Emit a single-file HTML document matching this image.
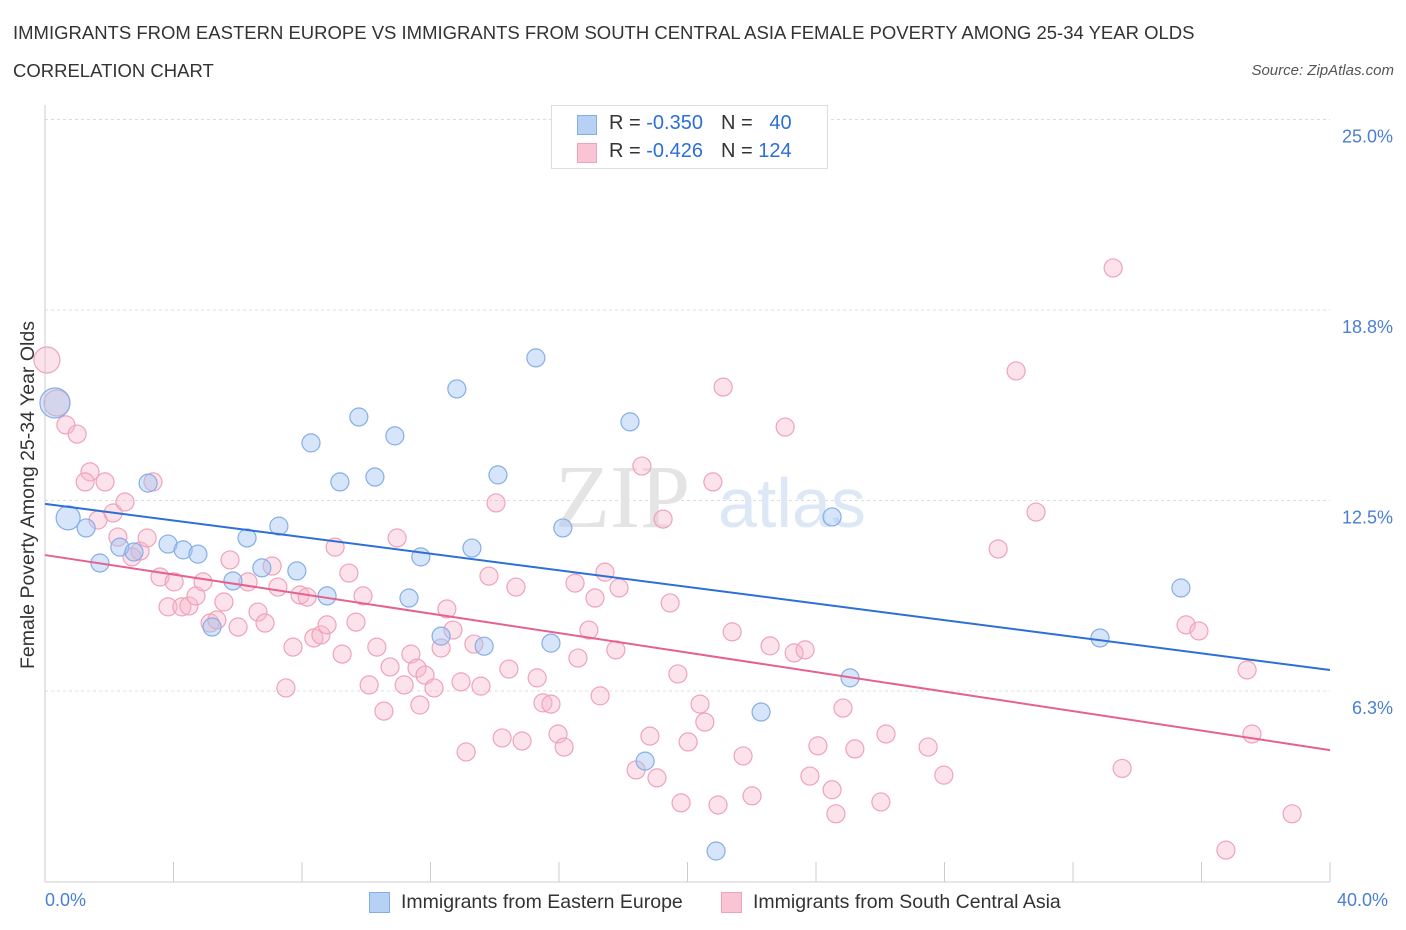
<!DOCTYPE html>
<html><head><meta charset="utf-8">
<style>
body{margin:0;background:#fff;font-family:"Liberation Sans",sans-serif;}
#wrap{position:relative;width:1406px;height:930px;overflow:hidden;}
.t{position:absolute;color:#333;white-space:nowrap;}
</style></head>
<body>
<div id="wrap">
<div class="t" style="left:13px;top:22px;font-size:18.5px;">IMMIGRANTS FROM EASTERN EUROPE VS IMMIGRANTS FROM SOUTH CENTRAL ASIA FEMALE POVERTY AMONG 25-34 YEAR OLDS</div>
<div class="t" style="left:13px;top:60px;font-size:18.5px;">CORRELATION CHART</div>
<div class="t" style="right:12px;top:62px;font-size:15px;font-style:italic;color:#555;">Source: ZipAtlas.com</div>
<svg id="svg" width="1406" height="930" style="position:absolute;left:0;top:0"></svg>
</div>
<script>
const blueX=[0.31,0.72,1.28,1.71,2.33,2.77,3.21,3.83,4.30,4.76,5.20,5.85,6.29,6.75,7.28,7.84,8.28,8.78,9.18,9.77,10.27,10.89,11.33,11.70,12.33,12.82,13.29,13.67,14.10,15.28,15.75,16.12,18.21,18.68,20.89,22.29,24.50,25.06,32.84,35.36];
const blueY=[15.70,11.93,11.60,10.45,10.97,10.81,13.07,11.07,10.88,10.74,8.35,9.86,11.27,10.29,11.66,10.19,14.39,9.37,13.11,15.24,13.27,14.62,9.30,10.65,8.05,16.16,10.94,7.72,13.34,17.18,7.82,11.60,15.08,3.95,1.00,5.56,11.96,6.68,7.99,9.63];
const pinkX=[0.06,0.37,0.65,1.00,1.40,1.25,1.87,1.65,2.12,2.49,2.27,2.71,2.96,3.18,3.36,3.58,3.83,4.02,4.26,4.48,4.70,4.92,5.14,5.35,5.57,5.76,6.01,6.32,6.63,6.85,7.07,7.25,7.50,7.72,7.94,8.16,8.37,8.59,8.78,9.03,9.25,9.46,9.68,9.90,10.09,10.33,10.55,10.74,10.96,11.18,11.39,11.58,11.67,11.83,12.11,12.33,12.51,12.70,12.95,13.11,13.35,13.57,13.82,14.04,14.23,14.44,14.66,14.85,15.32,15.50,15.75,15.97,16.16,16.50,16.59,16.93,17.12,17.28,17.43,17.77,17.87,18.40,18.58,18.83,19.05,19.24,19.46,19.70,19.80,20.02,20.39,20.54,20.79,20.95,21.11,21.39,21.73,22.01,22.57,23.04,23.32,23.66,23.81,24.06,24.50,24.62,24.84,25.21,26.02,26.18,27.49,27.98,29.67,30.23,30.85,33.25,33.53,35.52,35.92,37.42,37.57,36.76,38.82];
const pinkY=[17.11,15.70,14.98,14.68,13.44,13.11,13.11,11.86,12.09,12.45,11.30,10.65,10.84,11.27,13.11,9.99,9.01,9.83,9.01,9.04,9.37,9.83,8.48,8.58,9.17,10.55,8.35,9.83,8.84,8.48,10.35,9.66,6.35,7.69,9.40,9.33,7.99,8.09,8.42,10.97,7.46,10.12,8.51,9.37,6.45,7.69,5.59,7.04,11.27,6.45,7.46,7.00,5.79,6.77,6.35,7.66,8.94,8.25,6.55,4.25,7.79,6.41,10.02,12.42,4.71,6.97,9.66,4.61,6.68,5.86,5.82,4.84,4.41,9.79,7.33,8.25,9.30,6.09,10.15,7.60,9.63,3.66,13.63,4.77,3.40,11.89,9.14,6.81,2.58,4.58,5.82,5.23,13.11,2.51,16.22,8.19,4.12,2.81,7.73,14.91,7.50,7.60,3.46,4.45,3.01,2.22,5.69,4.35,2.61,4.84,4.41,3.49,10.91,16.75,12.12,20.13,3.71,8.42,8.22,6.94,4.84,1.03,2.22];
const blueLine=[12.39,6.94];
const pinkLine=[10.71,4.31];
const yTicks=[25.0,18.8,12.5,6.3];
const yTickVals=[25.0,18.75,12.5,6.25];

const X0=45,X1=1330,Y0=881.5,PXY=30.48;
const sx=v=>X0+v*(X1-X0)/40;
const sy=v=>Y0-v*PXY;
const svg=document.getElementById('svg');
const NS='http://www.w3.org/2000/svg';
function mk(tag,attrs,parent){const e=document.createElementNS(NS,tag);for(const k in attrs)e.setAttribute(k,attrs[k]);(parent||svg).appendChild(e);return e;}

yTickVals.forEach((v,i)=>{
  const g=mk('line',{x1:X0,x2:X1,y1:sy(v),y2:sy(v),stroke:'#ddd','stroke-dasharray':'3,3'});
  
  
  const t=mk('text',{x:1393,y:sy(v)+23,'text-anchor':'end','font-size':'18',fill:'#4a7fd4','font-family':'Liberation Sans'});
  t.textContent=yTicks[i].toFixed(1)+'%';
  
  
});
const ya=mk('line',{x1:X0,x2:X0,y1:105,y2:882,stroke:'#ccc'});


const xa=mk('line',{x1:X0,x2:X1,y1:882,y2:882,stroke:'#ccc'});


for(let i=0;i<=10;i++){
  const tk=mk('line',{x1:sx(i*4),x2:sx(i*4),y1:862,y2:882,stroke:'#ccc'});
  
  
}
const wm=mk('text',{x:555,y:527,'font-size':'90','font-family':'Liberation Serif',fill:'#e4e4e4'});
wm.textContent='ZIP';


const wm2=mk('text',{x:718,y:527,'font-size':'70','font-family':'Liberation Sans',fill:'#dde8f6'});
wm2.textContent='atlas';



function pts(xs,ys,fill,stroke,name,big){
  xs.forEach((x,i)=>{
    const c=mk('circle',{cx:sx(x),cy:sy(ys[i]),r:big[i]||9,fill:fill,stroke:stroke,'stroke-width':1.2});
    
    
  });
}
pts(pinkX,pinkY,'rgba(248,182,202,0.4)','#efa3bb','pink-point',{0:13,1:13});
pts(blueX,blueY,'rgba(165,198,242,0.45)','#86aee6','blue-point',{0:15,1:12});
const bl=mk('line',{x1:sx(0),y1:sy(blueLine[0]),x2:sx(40),y2:sy(blueLine[1]),stroke:'#2d6fd6','stroke-width':2});


const pl=mk('line',{x1:sx(0),y1:sy(pinkLine[0]),x2:sx(40),y2:sy(pinkLine[1]),stroke:'#e5628e','stroke-width':2});


</script>
<div class="t" style="left:17px;top:669px;font-size:19.5px;transform:rotate(-90deg);transform-origin:0 0;">Female Poverty Among 25-34 Year Olds</div>
<div class="t" style="left:45px;top:890px;font-size:18px;color:#4a7fd4;">0.0%</div>
<div class="t" style="left:1337px;top:890px;font-size:18px;color:#4a7fd4;">40.0%</div>
<div style="position:absolute;left:551px;top:105px;width:275px;height:62px;border:1px solid #ddd;background:#fff;font-size:20px;">
  <div style="position:absolute;left:25px;top:9px;width:18px;height:18px;background:#b7d1f5;border:1px solid #86aee6;"></div>
  <div class="t" style="left:57px;top:6px;"><span>R = </span><span style="color:#2d6fd6">-0.350</span><span style="margin-left:18px">N = </span><span style="color:#2d6fd6">&nbsp;&nbsp;40</span></div>
  <div style="position:absolute;left:25px;top:37px;width:18px;height:18px;background:#f9c4d4;border:1px solid #efa3bb;"></div>
  <div class="t" style="left:57px;top:34px;"><span>R = </span><span style="color:#2d6fd6">-0.426</span><span style="margin-left:18px">N = </span><span style="color:#2d6fd6">124</span></div>
</div>
<div style="position:absolute;left:369px;top:892px;width:19px;height:19px;background:#b7d1f5;border:1px solid #86aee6;"></div>
<div class="t" style="left:401px;top:891px;font-size:19.5px;">Immigrants from Eastern Europe</div>
<div style="position:absolute;left:721px;top:892px;width:19px;height:19px;background:#f9c4d4;border:1px solid #efa3bb;"></div>
<div class="t" style="left:753px;top:891px;font-size:19.5px;">Immigrants from South Central Asia</div>
</body></html>
